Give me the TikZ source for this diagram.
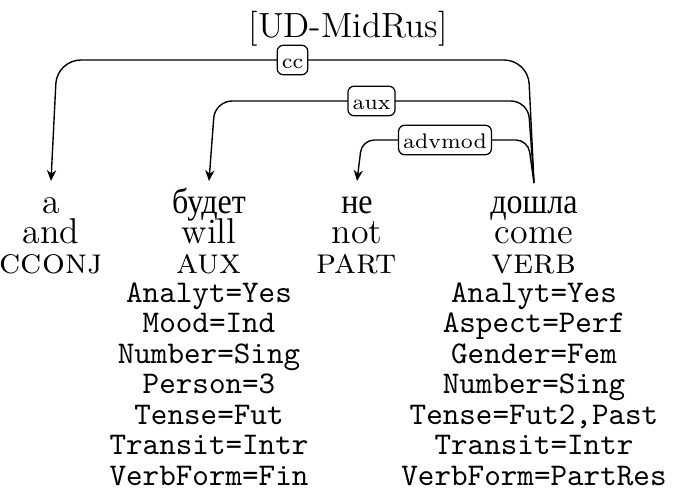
\documentclass[tikz,border=0pt]{standalone}
\usepackage{fontspec}
\newfontfamily\cyr[FakeStretch=0.9]{Liberation Serif}
\usetikzlibrary{arrows.meta,calc}

\tikzset{
  word/.style={anchor=base, inner sep=0pt, font=\fontsize{11.6}{14}\selectfont},
  cyrword/.style={anchor=base, inner sep=0pt, font=\cyr\fontsize{11.5}{14}\selectfont},
  feat/.style={anchor=base, inner sep=0pt, font=\fontsize{10.2}{12}\ttfamily},
  deplabel/.style={draw, rounded corners=2pt, fill=white, line width=0.4pt,
    inner xsep=1.5pt, inner ysep=1pt, text height=1.5ex, text depth=0.25ex,
    font=\fontsize{6.8}{8}\selectfont},
  dep/.style={-{Stealth[length=3.5pt,width=3pt]}, line width=0.45pt},
}

\begin{document}
\begin{tikzpicture}[x=0.3231pt, y=-0.3231pt]
\useasboundingbox (0,0) rectangle (685,490);

% treebank tag
\node[word, font=\fontsize{11.3}{13}\selectfont] (title) at (348,38) {[UD-MidRus]};

% word columns: form, gloss, part of speech
\node[word]    (w1) at (51,213)  {a};
\node[word]    (g1) at (51,243)  {and};
\node[word]    (p1) at (51,273)  {\textsc{cconj}};

\node[cyrword] (w2) at (209,213) {будет};
\node[word]    (g2) at (209,243) {will};
\node[word]    (p2) at (209,273) {\textsc{aux}};

\node[cyrword] (w3) at (357,213) {не};
\node[word]    (g3) at (357,243) {not};
\node[word]    (p3) at (357,273) {\textsc{part}};

\node[cyrword] (w4) at (534,213) {дошла};
\node[word]    (g4) at (534,243) {come};
\node[word]    (p4) at (534,273) {\textsc{verb}};

% morphological features
\foreach \t [count=\i] in {Analyt=Yes, Mood=Ind, Number=Sing, Person=3,
    Tense=Fut, Transit=Intr, VerbForm=Fin}
  \node[feat] (fa\i) at (209,{302+30.5*(\i-1)}) {\t};
\foreach \t [count=\i] in {Analyt=Yes, Aspect=Perf, Gender=Fem, Number=Sing,
    {Tense=Fut2,Past}, Transit=Intr, VerbForm=PartRes}
  \node[feat] (fb\i) at (534,{302+30.5*(\i-1)}) {\t};

% arc ends and label positions
\coordinate (root) at (534,183);
\coordinate (t1) at (51,181);
\coordinate (t2) at (209,181);
\coordinate (t3) at (357,181);
\coordinate (hcc)  at (292.5,60);
\coordinate (haux) at (371.5,101);
\coordinate (hadv) at (445,140);

% dependency arcs
\draw[dep, rounded corners=7.7pt] (root) -- ($(root |- hcc)+(-6,0)$)
  -- ($(t1 |- hcc)+(6,0)$) -- (t1);
\draw[dep, rounded corners=5.5pt] (root) -- ($(root |- haux)+(-6,0)$)
  -- ($(t2 |- haux)+(6,0)$) -- (t2);
\draw[dep, rounded corners=3.9pt] (root) -- ($(root |- hadv)+(-6,0)$)
  -- ($(t3 |- hadv)+(5,0)$) -- (t3);

% relation labels
\node[deplabel] (lcc)  at (hcc)  {cc};
\node[deplabel] (laux) at (haux) {aux};
\node[deplabel] (ladv) at (hadv) {advmod};
\end{tikzpicture}
\end{document}
